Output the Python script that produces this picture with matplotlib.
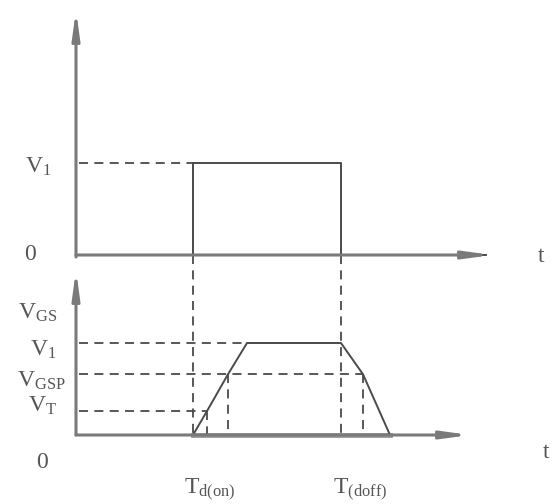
import matplotlib.pyplot as plt

plt.rcParams['font.family'] = ['Liberation Serif', 'DejaVu Serif']
plt.rcParams['mathtext.fontset'] = 'custom'
plt.rcParams['mathtext.rm'] = 'Liberation Serif'
plt.rcParams['mathtext.it'] = 'Liberation Serif'

# ---- data (time in px from origin, voltage in units of V1) ----
t_on = 117        # Td(on)
t_vt = 131        # gate reaches VT
t_gsp_rise = 152  # gate reaches VGSP on rising edge
t_top = 171       # gate reaches V1
t_off = 265       # T(doff)
t_gsp_fall = 287  # VGSP on falling edge
t_end = 314       # gate back at 0

V1 = 1.0
VGSP = 0.66
VT = 0.26

pulse_t = [0, t_on, t_on, t_off, t_off, 410]
pulse_v = [0, 0, V1, V1, 0, 0]

gate_t = [t_on, t_vt, t_gsp_rise, t_top, t_off, t_gsp_fall, t_end]
gate_v = [0, VT, VGSP, V1, V1, VGSP, 0]

# ---- layout (pixels) ----
X0 = 76
TOP_BASE = 255
BOT_BASE = 435
SCALE = 92
INK = '#4a4a4a'
AXIS = '#7a7a7a'


def px(t):
    return X0 + t


def py(v, base):
    return base - v * SCALE


fig = plt.figure(figsize=(5.55, 5.04), dpi=100)
ax = fig.add_axes([0, 0, 1, 1])
ax.set_xlim(0, 555)
ax.set_ylim(504, 0)
ax.axis('off')

dash = dict(color=INK, lw=1.3, ls=(0, (5, 3.5)))
solid = dict(color=INK, lw=1.4)

# axes with arrows
def arrow(x0, y0, x1, y1):
    ax.annotate('', xy=(x1, y1), xytext=(x0, y0),
                arrowprops=dict(arrowstyle='-|>,head_length=1.6,head_width=0.22',
                                color=AXIS, lw=2.2, shrinkA=0, shrinkB=0))

arrow(X0, TOP_BASE + 2, X0, 10)
arrow(X0, TOP_BASE, 492, TOP_BASE)
arrow(X0, BOT_BASE, X0, 270)
arrow(X0, BOT_BASE, 470, BOT_BASE)

# top pulse
ax.plot([px(t) for t in pulse_t], [py(v, TOP_BASE) for v in pulse_v], **solid)
ax.plot([X0 + 3, px(t_on)], [py(V1, TOP_BASE)] * 2, **dash)

# bottom gate voltage
ax.plot([px(t) for t in gate_t], [py(v, BOT_BASE) for v in gate_v], **solid)
ax.plot([px(t_on), px(t_end)], [BOT_BASE, BOT_BASE], color='#9a9a9a', lw=3.5, zorder=1)

# horizontal dashed levels
ax.plot([X0 + 3, px(t_top)], [py(V1, BOT_BASE)] * 2, **dash)
ax.plot([X0 + 3, px(t_gsp_fall)], [py(VGSP, BOT_BASE)] * 2, **dash)
ax.plot([X0 + 3, px(t_vt)], [py(VT, BOT_BASE)] * 2, **dash)

# vertical dashed guides
ax.plot([px(t_on)] * 2, [TOP_BASE, BOT_BASE], **dash)
ax.plot([px(t_off)] * 2, [TOP_BASE, BOT_BASE], **dash)
ax.plot([px(t_vt)] * 2, [py(VT, BOT_BASE), BOT_BASE], **dash)
ax.plot([px(t_gsp_rise)] * 2, [py(VGSP, BOT_BASE), BOT_BASE], **dash)
ax.plot([px(t_gsp_fall)] * 2, [py(VGSP, BOT_BASE), BOT_BASE], **dash)

# labels
fs = 17
tc = '#555555'
ax.text(25, 167, r'$\mathrm{V_1}$', fontsize=fs, color=tc, va='center')
ax.text(24, 255, '0', fontsize=fs, color=tc, va='center')
ax.text(538, 256, 't', fontsize=fs, color=tc, va='center')

ax.text(18, 313, r'$\mathrm{V_{GS}}$', fontsize=fs, color=tc, va='center')
ax.text(30, 350, r'$\mathrm{V_1}$', fontsize=fs, color=tc, va='center')
ax.text(17, 381, r'$\mathrm{V_{GSP}}$', fontsize=fs, color=tc, va='center')
ax.text(28, 406, r'$\mathrm{V_T}$', fontsize=fs, color=tc, va='center')
ax.text(36, 462, '0', fontsize=fs, color=tc, va='center')
ax.text(543, 452, 't', fontsize=fs, color=tc, va='center')

ax.text(184, 490, r'$\mathrm{T_{d(on)}}$', fontsize=fs, color=tc, va='center')
ax.text(333, 490, r'$\mathrm{T_{(doff)}}$', fontsize=fs, color=tc, va='center')

fig.savefig('out.png', dpi=100, facecolor='white')
